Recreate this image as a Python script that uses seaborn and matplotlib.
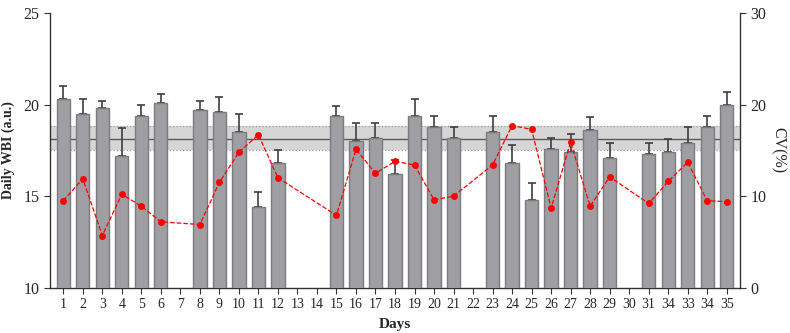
import numpy as np
import pandas as pd
import matplotlib
matplotlib.use("Agg")
import matplotlib.pyplot as plt
import seaborn as sns

# data
days = list(range(1, 36))
day_labels = [str(d) for d in days]
day_labels[31] = "34"  # label printed this way in the original figure

wbi = [20.3, 19.5, 19.8, 17.2, 19.4, 20.1, np.nan, 19.7, 19.6, 18.5,
       14.4, 16.8, np.nan, np.nan, 19.4, 18.0, 18.2, 16.2, 19.4, 18.8,
       18.2, np.nan, 18.5, 16.8, 14.8, 17.6, 17.4, 18.6, 17.1, np.nan,
       17.3, 17.4, 17.9, 18.8, 20.0]
wbi_sd = [0.7, 0.8, 0.4, 1.5, 0.6, 0.5, np.nan, 0.5, 0.8, 1.0,
          0.8, 0.7, np.nan, np.nan, 0.5, 1.0, 0.8, 0.8, 0.9, 0.6,
          0.6, np.nan, 0.9, 1.0, 0.9, 0.6, 1.0, 0.7, 0.8, np.nan,
          0.6, 0.7, 0.9, 0.6, 0.7]
cv = [9.5, 11.9, 5.7, 10.2, 8.9, 7.2, np.nan, 6.9, 11.5, 14.8,
      16.7, 12.0, np.nan, np.nan, 7.9, 15.1, 12.5, 13.8, 13.4, 9.6,
      10.0, np.nan, 13.4, 17.7, 17.3, 8.7, 15.9, 8.9, 12.1, np.nan,
      9.2, 11.6, 13.7, 9.5, 9.4]

band_low, band_mean, band_high = 17.52, 18.13, 18.84

df = pd.DataFrame({"day": days, "wbi": wbi, "sd": wbi_sd, "cv": cv})
df["pos"] = df["day"] - 1

sns.set_style("ticks")
plt.rcParams["font.family"] = ["Liberation Serif", "DejaVu Serif"]

fig = plt.figure(figsize=(7.9, 3.33), dpi=100)
ax = fig.add_axes([0.0633, 0.136, 0.8734, 0.825])

# bars first, so only their patches get raised
sns.barplot(data=df, x="day", y="wbi", order=days, width=0.68,
            color="#9e9ea3", saturation=1, edgecolor="#7c7c7e",
            linewidth=1.0, errorbar=None, ax=ax)
for p in ax.patches:
    p.set_zorder(3)

# reference band (mean and limits), behind the bars
ax.axhspan(band_low, band_high, facecolor="#d6d6d6", zorder=0.2, lw=0)
ax.axhline(band_low, color="#9a9a9a", ls=":", lw=0.9, zorder=0.5)
ax.axhline(band_high, color="#9a9a9a", ls=":", lw=0.9, zorder=0.5)
ax.axhline(band_mean, color="#5a5a5a", lw=1.0, zorder=0.5)

d = df.dropna(subset=["wbi"])
ax.errorbar(d["pos"], d["wbi"], yerr=[np.zeros(len(d)), d["sd"]],
            fmt="none", ecolor="#3e3e3e", elinewidth=1.2, capsize=3,
            capthick=1.2, zorder=2)

ax.set_ylim(10, 25)
ax.set_yticks([10, 15, 20, 25])
ax.set_xlim(-0.68, 34.68)
ax.set_xticks(range(35))
ax.set_xticklabels(day_labels, fontsize=10)
ax.tick_params(axis="y", labelsize=11.5, length=4, color="#333333")
ax.tick_params(axis="x", length=4, color="#333333")
ax.set_xlabel("Days", fontsize=11, fontweight="bold", labelpad=5)
ax.set_ylabel("Daily WBI (a.u.)", fontsize=10, fontweight="bold", labelpad=6)

# CV on secondary axis
ax2 = ax.twinx()
c = df.dropna(subset=["cv"])
sns.lineplot(x=c["pos"].values, y=c["cv"].values, ax=ax2, color="red",
             linestyle="--", lw=0.9, marker="o", markersize=5,
             markeredgewidth=0, alpha=1)
ax2.set_ylim(0, 30)
ax2.set_yticks([0, 10, 20, 30])
ax2.tick_params(axis="y", labelsize=11.5, length=4, color="#333333")
ax2.set_ylabel("CV(%)", fontsize=11.5, rotation=270, labelpad=14)

for a in (ax, ax2):
    a.spines["top"].set_visible(False)
    for s in ("left", "right", "bottom"):
        a.spines[s].set_color("#333333")
        a.spines[s].set_linewidth(1.0)
ax.spines["right"].set_visible(False)
ax2.spines["left"].set_visible(False)
ax2.spines["bottom"].set_visible(False)

fig.savefig("out.png", dpi=100)
plt.close(fig)
